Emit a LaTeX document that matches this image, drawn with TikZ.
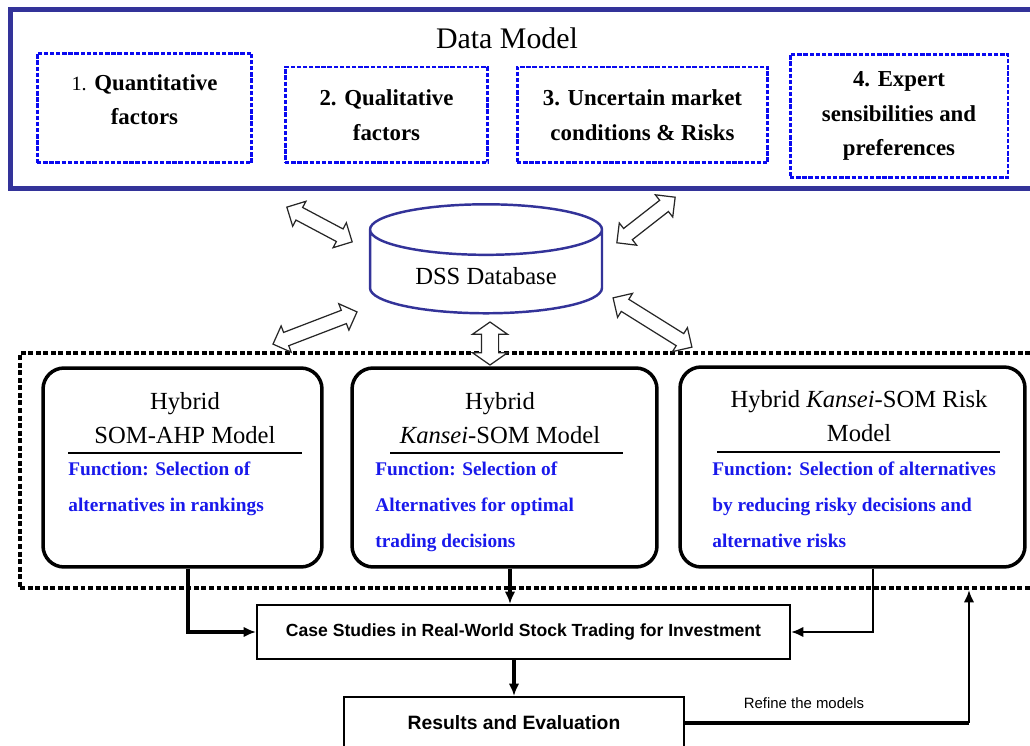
\documentclass[tikz,border=0pt]{standalone}
\usepackage{fontspec}
\setmainfont{Liberation Serif}
\setsansfont{Liberation Sans}
\usetikzlibrary{shapes.geometric,shapes.arrows,arrows.meta,positioning,calc}
\definecolor{dmblue}{RGB}{51,51,153}
\definecolor{fblue}{RGB}{10,10,240}
\definecolor{txtblue}{RGB}{25,25,235}

\begin{document}
\begin{tikzpicture}[x=0.02cm, y=-0.02cm,
    outerbox/.style={draw=dmblue, line width=2.8pt, minimum width=20.8cm, minimum height=3.58cm},
    factor/.style={draw=fblue, line width=1.7pt, dash pattern=on 2.5pt off 1pt, align=center, font=\fontsize{13}{19.8}\selectfont\bfseries},
    dbshape/.style={cylinder, shape border rotate=90, aspect=0.33, draw=dmblue, line width=1.4pt, minimum width=4.64cm, minimum height=2.18cm, font=\fontsize{14}{16}\selectfont},
    dblarrow/.style={double arrow, draw=black!85, fill=white, line width=0.7pt, inner sep=0pt, inner ysep=0.13cm, double arrow head extend=0.14cm},
    modelarea/.style={draw, line width=2.2pt, dash pattern=on 2.8pt off 1.5pt, minimum width=20.6cm, minimum height=4.7cm},
    modelbox/.style={draw, line width=2pt, rounded corners=12pt, minimum height=3.98cm},
    title/.style={align=center, font=\fontsize{14}{19}\selectfont},
    func/.style={align=left, text=txtblue, anchor=north west, inner sep=0pt, font=\fontsize{11}{20.4}\selectfont\bfseries},
    rule/.style={line width=1.3pt},
    flowbox/.style={draw, line width=1.2pt, font=\sffamily\bfseries\fontsize{10}{12}\selectfont},
    flow/.style={-{Latex[length=7pt,width=6pt]}, line width=2pt},
    ]

\useasboundingbox (0,0) rectangle (1030,746);
\clip (0,0) rectangle (1030,746);

% data model
\node[outerbox] (dm) at (530,99) {};
\node[font=\fontsize{17}{20}\selectfont] (dmtitle) at (507,38) {Data Model};
\node[factor, minimum width=4.3cm, minimum height=2.2cm, text depth=9.5pt] (fact1) at (144.5,108) {{\mdseries\fontsize{11.5}{14}\selectfont 1.} Quantitative\\factors};
\node[factor, minimum width=4.06cm, minimum height=1.92cm] (fact2) at (386.5,115) {2. Qualitative\\factors};
\node[factor, minimum width=5.02cm, minimum height=1.92cm] (fact3) at (642.5,115) {3. Uncertain market\\conditions \& Risks};
\node[factor, minimum width=4.36cm, minimum height=2.46cm] (fact4) at (899,116) {4. Expert\\sensibilities and\\preferences};

% database
\node[dbshape] (db) at (486,276) {DSS Database};

% models
\node[modelarea] (models) at (535,470.5) {};
\node[modelbox, minimum width=5.58cm] (ahp) at (182.5,467.5) {};
\node[modelbox, minimum width=6.1cm] (kan) at (504.5,467.5) {};
\node[modelbox, minimum width=6.9cm, minimum height=4cm] (risk) at (852.5,467) {};

\node[title] (ahptitle) at (185,418) {Hybrid\\SOM-AHP Model};
\node[title] (kantitle) at (500,418) {Hybrid\\\textit{Kansei}-SOM Model};
\node[title] (risktitle) at (859,416) {Hybrid \textit{Kansei}-SOM Risk\\Model};
\draw[rule] (68,453) -- (302,453);
\draw[rule] (390,453) -- (623,453);
\draw[rule] (717,452) -- (1000,452);
\node[func] (ahpfun) at (68,461.5) {Function: Selection of\\alternatives in rankings};
\node[func] (kanfun) at (375,461.5) {Function: Selection of\\Alternatives for optimal\\trading decisions};
\node[func] (riskfun) at (712,461.5) {Function: Selection of alternatives\\by reducing risky decisions and\\alternative risks};

% exchange with the database
\node[dblarrow, rotate=-28, minimum height=1.48cm] (x1) at (319.5,224.5) {};
\node[dblarrow, rotate=38, minimum height=1.48cm] (x2) at (646,220) {};
\node[dblarrow, rotate=21, minimum height=1.8cm] (x3) at (315,328) {};
\node[dblarrow, rotate=-32, minimum height=1.86cm] (x4) at (652.5,322.5) {};
\node[dblarrow, rotate=90, minimum height=0.86cm, inner ysep=0.16cm, double arrow head extend=0.18cm, double arrow tip angle=110] (x5) at (490,343.5) {};

% case study and evaluation
\node[flowbox, minimum width=10.66cm, minimum height=1.08cm] (cs) at (523.5,632) {Case Studies in Real-World Stock Trading for Investment};
\node[flowbox, minimum width=6.8cm, minimum height=1.04cm, font=\sffamily\bfseries\fontsize{11}{13}\selectfont] (res) at (514,723) {Results and Evaluation};
\node[font=\sffamily\fontsize{8.5}{10}\selectfont] (refine) at (804,703) {Refine the models};
\coordinate (fb) at (969,590);

\draw[flow] ($(ahp.south)+(5.5,0)$) |- (cs.west);
\draw[flow] ($(kan.south)+(5.5,0)$) coordinate (k1) -- (k1 |- cs.north);
\draw[flow, line width=1.4pt] ($(risk.south)+(20.5,0)$) |- (cs.east);
\draw[flow, line width=2.4pt] (res.north |- cs.south) -- (res.north);
\draw[line width=2.6pt] (res.east) -- (res.east -| fb);
\draw[flow, line width=1.4pt] (res.east -| fb) -- (fb);

\end{tikzpicture}
\end{document}
